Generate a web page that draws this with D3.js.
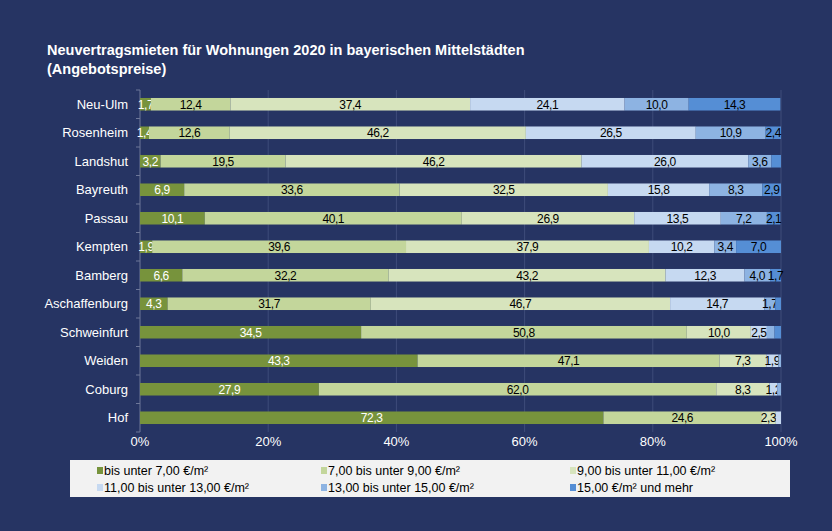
<!DOCTYPE html>
<html><head><meta charset="utf-8">
<script src="https://cdn.jsdelivr.net/npm/d3@7.9.0/dist/d3.min.js"></script>
<style>
body{margin:0;background:#263463;}
text{font-family:"Liberation Sans",Arial,sans-serif;}
</style></head><body>
<svg id="c" width="832" height="531"></svg>
<script>
const cities = ['Neu-Ulm','Rosenheim','Landshut','Bayreuth','Passau','Kempten','Bamberg','Aschaffenburg','Schweinfurt','Weiden','Coburg','Hof'];
const categories = ['bis unter 7,00 €/m²','7,00 bis unter 9,00 €/m²','9,00 bis unter 11,00 €/m²','11,00 bis unter 13,00 €/m²','13,00 bis unter 15,00 €/m²','15,00 €/m² und mehr'];
const colors = ['#77933c','#c3d69b','#d7e4bd','#c6d9f1','#8db3e2','#558ed5'];
const under7   = [1.7,1.4,3.2,6.9,10.1,1.9,6.6,4.3,34.5,43.3,27.9,72.3];
const from7    = [12.4,12.6,19.5,33.6,40.1,39.6,32.2,31.7,50.8,47.1,62.0,24.6];
const from9    = [37.4,46.2,46.2,32.5,26.9,37.9,43.2,46.7,10.0,7.3,8.3,2.3];
const from11   = [24.1,26.5,26.0,15.8,13.5,10.2,12.3,14.7,2.5,1.9,1.2,0.8];
const from13   = [10.0,10.9,3.6,8.3,7.2,3.4,4.0,1.7,1.2,0.4,0.6,0];
const from15   = [14.3,2.4,1.5,2.9,2.1,7.0,1.7,0.9,1.0,0,0,0];
const series = [under7,from7,from9,from11,from13,from15];
const ticks = [0,20,40,60,80,100];
// segments shown without a value label in the original
const unlabeled = new Set(['Landshut|5','Schweinfurt|4','Schweinfurt|5']);

const svg = d3.select('#c');
svg.append('text').attr('x',47).attr('y',55).attr('fill','#fff').attr('font-weight','bold').attr('font-size',14.5)
  .text('Neuvertragsmieten für Wohnungen 2020 in bayerischen Mittelstädten');
svg.append('text').attr('x',47).attr('y',74).attr('fill','#fff').attr('font-weight','bold').attr('font-size',14.5)
  .text('(Angebotspreise)');

const x = d3.scaleLinear().domain([0,100]).range([140,781]);
const y = d3.scaleBand().domain(cities).range([90,432]).paddingInner(0.56).paddingOuter(0.28);

svg.append('g').selectAll('line').data(ticks.slice(1)).join('line')
  .attr('x1',d=>x(d)).attr('x2',d=>x(d)).attr('y1',90).attr('y2',432)
  .attr('stroke','#3e4c7a').attr('stroke-width',1);
svg.append('line').attr('x1',140).attr('x2',140).attr('y1',90).attr('y2',432).attr('stroke','#6d7799');
svg.append('g').selectAll('line').data(d3.range(cities.length+1)).join('line')
  .attr('x1',136).attr('x2',140).attr('y1',d=>90+d*342/cities.length).attr('y2',d=>90+d*342/cities.length).attr('stroke','#6d7799');

cities.forEach((c,i)=>{
  let acc = 0;
  series.forEach((s,k)=>{
    const v = s[i]; if(!v) return;
    const x0 = x(acc), x1 = x(Math.min(acc+v,100));
    svg.append('rect').attr('x',x0).attr('y',y(c)).attr('width',Math.max(0,x1-x0)).attr('height',y.bandwidth()).attr('fill',colors[k]);
    if (v >= 1 && !unlabeled.has(c+'|'+k)) svg.append('text').attr('x',(x0+x1)/2).attr('y',y(c)+y.bandwidth()/2+4.3)
      .attr('text-anchor','middle').attr('font-size',12).attr('letter-spacing',-0.4).attr('fill',k===0?'#fff':'#000')
      .text(d3.format('.1f')(v).replace('.',','));
    acc += v;
  });
});

svg.append('g').selectAll('text').data(cities).join('text')
  .attr('x',128).attr('y',d=>y(d)+y.bandwidth()/2+4.5).attr('text-anchor','end')
  .attr('fill','#fff').attr('font-size',13).text(d=>d);
svg.append('g').selectAll('text').data(ticks).join('text')
  .attr('x',d=>x(d)).attr('y',446).attr('text-anchor','middle')
  .attr('fill','#fff').attr('font-size',13).text(d=>d+'%');

svg.append('rect').attr('x',70).attr('y',460).attr('width',720).attr('height',37).attr('fill','#f2f2f2');
const lx = [104,328,577];
categories.forEach((c,k)=>{
  const gx = lx[k%3], gy = 471 + Math.floor(k/3)*17;
  svg.append('rect').attr('x',gx-7).attr('y',gy-4).attr('width',6).attr('height',7).attr('fill',colors[k]);
  svg.append('text').attr('x',gx).attr('y',gy+4).attr('font-size',12.5).attr('fill','#000').text(c);
});
</script></body></html>
